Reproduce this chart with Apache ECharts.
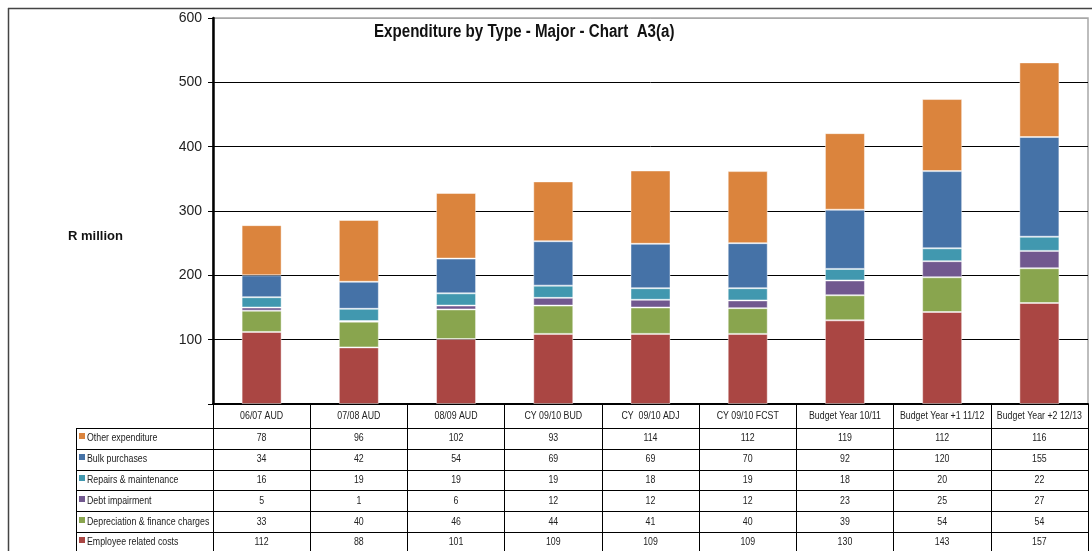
<!DOCTYPE html>
<html>
<head>
<meta charset="utf-8">
<script src="https://cdn.jsdelivr.net/npm/echarts@6/dist/echarts.min.js"></script>
<style>
  html, body { margin: 0; padding: 0; background: #fff; }
  #chart { width: 1092px; height: 551px; }
</style>
</head>
<body>
<div id="chart"></div>
<script>
// Categories (periods) and expenditure by type, R million
const categories = ['06/07 AUD', '07/08 AUD', '08/09 AUD', 'CY 09/10 BUD', 'CY  09/10 ADJ', 'CY 09/10 FCST', 'Budget Year 10/11', 'Budget Year +1 11/12', 'Budget Year +2 12/13'];
const employeeCosts       = [112, 88, 101, 109, 109, 109, 130, 143, 157];
const depreciationFinance = [33, 40, 46, 44, 41, 40, 39, 54, 54];
const debtImpairment      = [5, 1, 6, 12, 12, 12, 23, 25, 27];
const repairsMaintenance  = [16, 19, 19, 19, 18, 19, 18, 20, 22];
const bulkPurchases       = [34, 42, 54, 69, 69, 70, 92, 120, 155];
const otherExpenditure    = [78, 96, 102, 93, 114, 112, 119, 112, 116];
const yTickLabels = ['', '100', '200', '300', '400', '500', '600'];

// Stack order, bottom to top
const seriesDefs = [
  { name: 'Employee related costs', data: employeeCosts, color: '#AA4643' },
  { name: 'Depreciation & finance charges', data: depreciationFinance, color: '#89A54E' },
  { name: 'Debt impairment', data: debtImpairment, color: '#71588F' },
  { name: 'Repairs & maintenance', data: repairsMaintenance, color: '#4198AF' },
  { name: 'Bulk purchases', data: bulkPurchases, color: '#4572A7' },
  { name: 'Other expenditure', data: otherExpenditure, color: '#DB843D' }
];

const SANS = "'Liberation Sans', Arial, sans-serif";
const CONDENSE = 0.8;   // horizontal squeeze for the narrow table lettering

const GRID = { left: 213, right: 4, top: 18, bottom: 147 };
const HEADER_H = 24;
const ROW_H = 20.8;
const TABLE_LEFT = 76;

const chart = echarts.init(document.getElementById('chart'), null, { renderer: 'canvas' });

chart.setOption({
  backgroundColor: '#fff',
  animation: false,
  grid: {
    left: GRID.left, right: GRID.right, top: GRID.top, bottom: GRID.bottom,
    show: true, borderColor: '#a8a8a8', borderWidth: 1.5, backgroundColor: 'transparent'
  },
  xAxis: {
    type: 'category',
    data: categories,
    boundaryGap: true,
    axisLine: { show: true, lineStyle: { color: '#000', width: 2 } },
    // category boundaries run down through the data table as column rules
    axisTick: { show: true, interval: 0, alignWithLabel: false, length: GRID.bottom, lineStyle: { color: '#000', width: 1 } },
    axisLabel: { show: false, interval: 0 },
    splitLine: { show: false }
  },
  yAxis: {
    type: 'value',
    min: 0, max: 600, interval: 100,
    axisLine: { show: true, lineStyle: { color: '#000', width: 2.5 } },
    axisTick: { show: true, length: 5, lineStyle: { color: '#000', width: 1 } },
    axisLabel: {
      margin: 11, fontFamily: SANS, fontSize: 14, color: '#222',
      formatter: (v) => yTickLabels[Math.round(v / 100)]
    },
    splitLine: { show: true, lineStyle: { color: ['#000', '#000', '#000', '#000', '#000', '#000', '#a8a8a8'], width: 1 } }
  },
  series: seriesDefs.map(s => ({
    name: s.name,
    type: 'bar',
    stack: 'total',
    barWidth: 40,
    data: s.data,
    itemStyle: { color: s.color, borderColor: 'rgba(255,255,255,0.45)', borderWidth: 1 }
  }))
});

const rows = seriesDefs.slice().reverse();   // table rows in reverse stack order
const tableTop = chart.getHeight() - GRID.bottom;
const rightEdge = chart.getWidth() - GRID.right;
const colCenter = (i) => chart.convertToPixel({ xAxisIndex: 0 }, i);
const graphics = [];

function narrowText(x, y, text, align, opts) {
  return {
    type: 'text', x: x, y: y, scaleX: (opts && opts.scaleX) || CONDENSE,
    style: Object.assign({
      text: text, fontFamily: SANS, fontSize: 11, fill: '#222',
      verticalAlign: 'middle', align: align
    }, (opts && opts.style) || {})
  };
}

// Outer frame
graphics.push({ type: 'line', shape: { x1: 8, y1: 8.5, x2: chart.getWidth(), y2: 8.5 }, style: { stroke: '#444', lineWidth: 1.5 } });
graphics.push({ type: 'line', shape: { x1: 8.5, y1: 8, x2: 8.5, y2: chart.getHeight() }, style: { stroke: '#444', lineWidth: 1.5 } });

// Chart title
graphics.push(narrowText(374, 32, 'Expenditure by Type - Major - Chart  A3(a)', 'left', {
  scaleX: 0.84, style: { fontSize: 18, fontWeight: 'bold', fill: '#111' }
}));

// Axis title
graphics.push({
  type: 'text', x: 68, y: 236,
  style: { text: 'R million', fontFamily: SANS, fontSize: 13, fontWeight: 'bold', fill: '#111', verticalAlign: 'middle', align: 'left' }
});

// Header row: category names
categories.forEach((c, i) => {
  graphics.push(narrowText(colCenter(i), tableTop + HEADER_H / 2, c, 'center'));
});

// Row borders
const rowTop = (r) => tableTop + HEADER_H + r * ROW_H;
for (let r = 0; r <= rows.length; r++) {
  const y = Math.round(rowTop(r)) + 0.5;
  graphics.push({ type: 'line', shape: { x1: TABLE_LEFT, y1: y, x2: rightEdge, y2: y }, style: { stroke: '#000', lineWidth: 1 } });
}
graphics.push({ type: 'line', shape: { x1: TABLE_LEFT + 0.5, y1: Math.round(rowTop(0)), x2: TABLE_LEFT + 0.5, y2: chart.getHeight() }, style: { stroke: '#000', lineWidth: 1 } });

rows.forEach((s, r) => {
  const cy = rowTop(r) + ROW_H / 2;
  // legend key and series name
  graphics.push({ type: 'rect', shape: { x: TABLE_LEFT + 3, y: Math.round(cy) - 5, width: 6, height: 6 }, style: { fill: s.color } });
  graphics.push(narrowText(TABLE_LEFT + 11, cy, s.name, 'left'));
  // values, centred in each category column
  s.data.forEach((v, i) => {
    graphics.push(narrowText(colCenter(i), cy, String(v), 'center'));
  });
});

chart.setOption({ graphic: graphics });
</script>
</body>
</html>
